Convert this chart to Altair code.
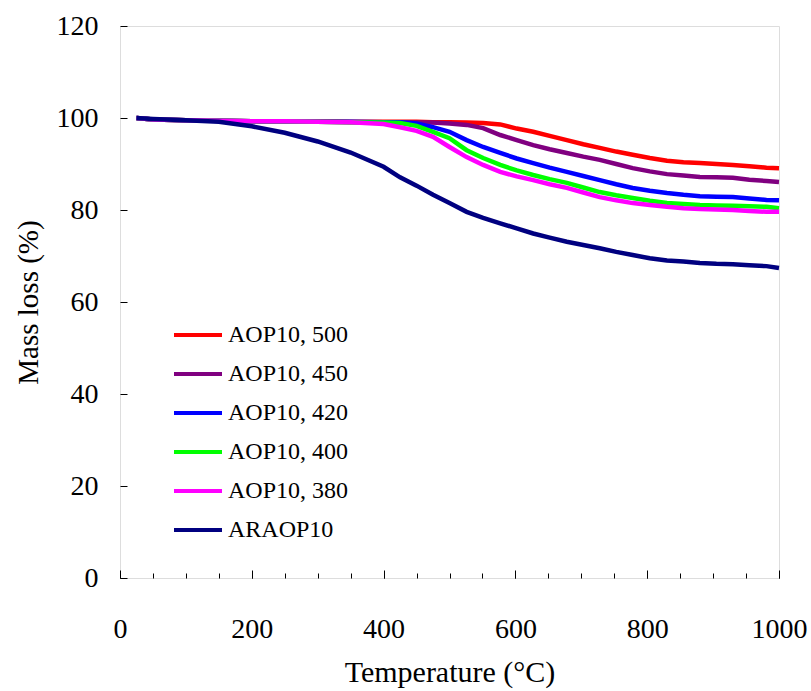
import altair as alt
import pandas as pd

series_names = ["AOP10, 500", "AOP10, 450", "AOP10, 420", "AOP10, 400", "AOP10, 380", "ARAOP10"]
series_colors = ["#ff0000", "#800080", "#0000ff", "#00ff00", "#ff00ff", "#000080"]

temp = [25, 50, 100, 150, 200, 250, 300, 350, 400, 425, 450, 475, 500, 526, 551, 577, 602, 627, 652, 678,
        703, 728, 753, 778, 804, 830, 855, 880, 905, 930, 955, 981, 1000]

aop500 = [100, 99.7, 99.5, 99.4, 99.3, 99.3, 99.3, 99.2, 99.2, 99.2, 99.2, 99.1, 99.1, 99.0, 98.9, 98.6, 97.7,
          97.0, 96.1, 95.2, 94.3, 93.5, 92.7, 92.0, 91.3, 90.7, 90.4, 90.2, 90.0, 89.8, 89.5, 89.2, 89.1]
aop450 = [100, 99.7, 99.5, 99.4, 99.3, 99.3, 99.2, 99.1, 99.1, 99.0, 99.0, 99.0, 98.8, 98.5, 97.8, 96.3, 95.2,
          94.1, 93.2, 92.4, 91.6, 90.9, 90.0, 89.1, 88.4, 87.8, 87.5, 87.2, 87.1, 87.0, 86.6, 86.3, 86.1]
aop420 = [100, 99.7, 99.5, 99.4, 99.3, 99.3, 99.2, 99.2, 99.1, 99.1, 98.8, 98.0, 97.0, 95.2, 93.7, 92.4, 91.2,
          90.2, 89.2, 88.3, 87.4, 86.5, 85.6, 84.8, 84.2, 83.7, 83.3, 83.0, 82.9, 82.8, 82.5, 82.2, 82.1]
aop400 = [100, 99.7, 99.5, 99.4, 99.3, 99.3, 99.2, 99.1, 99.0, 98.9, 98.3, 97.0, 95.6, 93.0, 91.3, 89.8, 88.6,
          87.6, 86.7, 85.9, 84.9, 83.9, 83.2, 82.6, 82.0, 81.5, 81.3, 81.1, 81.0, 80.9, 80.8, 80.7, 80.4]
aop380 = [100, 99.7, 99.5, 99.4, 99.3, 99.3, 99.2, 99.1, 98.7, 98.0, 97.2, 95.9, 93.7, 91.5, 89.8, 88.3, 87.3,
          86.5, 85.6, 84.8, 83.8, 82.8, 82.1, 81.5, 81.1, 80.7, 80.4, 80.2, 80.1, 80.0, 79.8, 79.6, 79.6]
araop10 = [100, 99.8, 99.5, 99.2, 98.2, 96.8, 94.9, 92.5, 89.4, 87.1, 85.3, 83.3, 81.5, 79.6, 78.3, 77.1, 76.0,
           74.9, 74.0, 73.1, 72.4, 71.7, 70.9, 70.2, 69.5, 69.0, 68.8, 68.5, 68.3, 68.2, 68.0, 67.8, 67.4]

all_series = [aop500, aop450, aop420, aop400, aop380, araop10]

rows = []
for name, vals in zip(series_names, all_series):
    for t, v in zip(temp, vals):
        rows.append({"Temperature": t, "Mass": v, "Series": name})
df = pd.DataFrame(rows)

FONT = "Liberation Serif"
W, H = 659, 552

x_scale = alt.Scale(domain=[0, 1000], nice=False)
y_scale = alt.Scale(domain=[0, 120], nice=False)

lines = alt.Chart(df).mark_line(strokeWidth=4.5, strokeJoin="miter").encode(
    x=alt.X("Temperature:Q", scale=x_scale,
            axis=alt.Axis(title="Temperature (°C)", values=[0, 200, 400, 600, 800, 1000], format="d",
                          ticks=False, tickSize=0, labelPadding=37, labelFontSize=28, labelFont=FONT,
                          labelColor="black", titleFont=FONT, titleFontSize=30, titleFontWeight="normal",
                          titleColor="black", titlePadding=14, domain=False, grid=False,
                          labelFlush=False, orient="bottom")),
    y=alt.Y("Mass:Q", scale=y_scale,
            axis=alt.Axis(title="Mass loss (%)", values=[0, 20, 40, 60, 80, 100, 120], format="d",
                          ticks=False, tickSize=0, labelPadding=22, labelFontSize=28, labelFont=FONT,
                          labelColor="black", titleFont=FONT, titleFontSize=29, titleFontWeight="normal",
                          titleColor="black", titlePadding=13, domain=False, grid=False,
                          labelFlush=False, orient="left")),
    color=alt.Color("Series:N", sort=series_names,
                    scale=alt.Scale(domain=series_names, range=series_colors),
                    legend=alt.Legend(title=None, orient="none", legendX=52, legendY=283,
                                      symbolType="stroke", symbolSize=2304, symbolStrokeWidth=4,
                                      labelFont=FONT, labelFontSize=24, labelColor="black",
                                      labelOffset=4, rowPadding=1, padding=0, labelLimit=300)),
    order=alt.Order("Temperature:Q"),
)

minor = alt.Chart(df).mark_line(opacity=0).encode(
    x=alt.X("Temperature:Q", scale=x_scale,
            axis=alt.Axis(orient="top", offset=-H, values=list(range(0, 1001, 50)), labels=False,
                          ticks=True, tickSize=5, tickColor="black", tickWidth=1, domain=False,
                          grid=False, title=None)),
    y=alt.Y("Mass:Q", scale=y_scale,
            axis=alt.Axis(orient="right", offset=-W, values=[0, 20, 40, 60, 80, 100, 120], labels=False,
                          ticks=True, tickSize=7, tickColor="black", tickWidth=1, domain=False,
                          grid=False, title=None)),
    detail="Series:N",
)

major = alt.Chart(df).mark_line(opacity=0).encode(
    x=alt.X("Temperature:Q", scale=x_scale,
            axis=alt.Axis(orient="top", offset=-H, values=[0, 200, 400, 600, 800, 1000], labels=False,
                          ticks=True, tickSize=8, tickColor="black", tickWidth=1, domain=False,
                          grid=False, title=None)),
    y=alt.Y("Mass:Q", scale=y_scale, axis=None),
    detail="Series:N",
)

chart = alt.layer(lines, minor, major).resolve_axis(x="independent", y="independent").properties(
    width=W, height=H,
    autosize=alt.AutoSizeParams(type="none"),
    padding={"left": 120, "top": 26, "right": 32, "bottom": 113},
).configure_view(stroke="black", strokeWidth=1.2).configure(background="white")

chart.save("out.html", embed_options={"renderer": "svg", "actions": False})
